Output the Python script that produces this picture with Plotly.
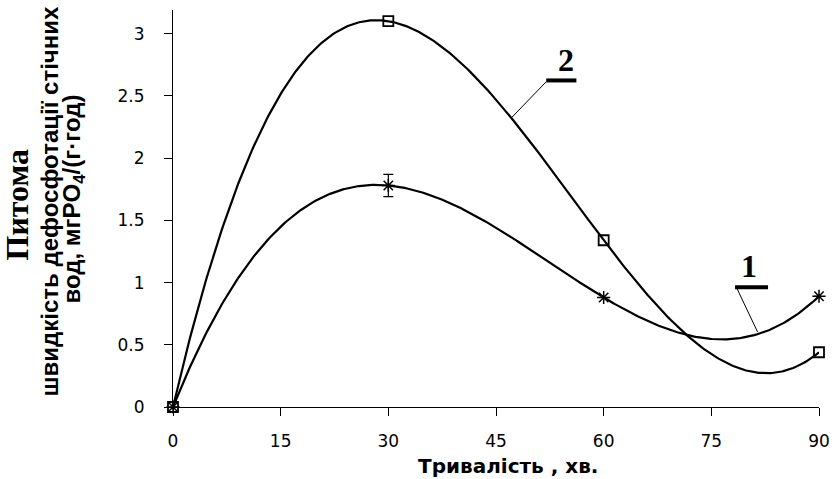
import numpy as np
import plotly.graph_objects as go

# ---- data ----
time_min = [0, 30, 60, 90]
series1 = [0.0, 1.78, 0.88, 0.89]
series1_err = [0.0, 0.09, 0.0, 0.0]
series2 = [0.0, 3.10, 1.34, 0.44]
x_ticks = [0, 15, 30, 45, 60, 75, 90]
y_ticks = [0, 0.5, 1, 1.5, 2, 2.5, 3]
y_tick_text = ["0", "0.5", "1", "1.5", "2", "2.5", "3"]

# cubic polynomial trendlines (as in the original chart)
xs = np.linspace(0, 90, 400)
fit1 = np.polyval(np.polyfit(time_min, series1, 3), xs)
fit2 = np.polyval(np.polyfit(time_min, series2, 3), xs)

fig = go.Figure()
fig.add_trace(go.Scatter(x=xs, y=fit2, mode="lines",
                         line=dict(color="black", width=2.2), hoverinfo="skip"))
fig.add_trace(go.Scatter(x=xs, y=fit1, mode="lines",
                         line=dict(color="black", width=2.2), hoverinfo="skip"))
fig.add_trace(go.Scatter(x=time_min, y=series2, mode="markers", cliponaxis=False,
                         marker=dict(symbol="square-open", size=10, color="black",
                                     line=dict(width=1.8, color="black"))))
fig.add_trace(go.Scatter(x=time_min, y=series1, mode="markers", cliponaxis=False,
                         error_y=dict(type="data", array=series1_err, visible=True,
                                      color="black", thickness=1.2, width=5),
                         marker=dict(symbol="asterisk-open", size=11, color="black",
                                     line=dict(width=1.5, color="black"))))

# curve labels with underline and leader lines
label_font = dict(family="Liberation Serif", size=32, color="black", weight="bold")
fig.add_annotation(x=54.7, y=2.79, text="2", showarrow=False,
                   font=label_font, xanchor="center", yanchor="middle")
fig.add_annotation(x=80.3, y=1.13, text="1", showarrow=False,
                   font=label_font, xanchor="center", yanchor="middle")
fig.add_shape(type="line", x0=52.0, x1=56.2, y0=2.624, y1=2.624,
              line=dict(color="black", width=4))
fig.add_shape(type="line", x0=52.04, x1=47.2, y0=2.616, y1=2.327,
              line=dict(color="black", width=1))
fig.add_shape(type="line", x0=78.3, x1=82.9, y0=0.963, y1=0.963,
              line=dict(color="black", width=4))
fig.add_shape(type="line", x0=78.55, x1=81.45, y0=0.955, y1=0.602,
              line=dict(color="black", width=1))

# y-axis title (three lines)
fig.add_annotation(xref="paper", yref="paper", x=0, y=0.5, xshift=-157, yshift=4,
                   text="Питома", textangle=-90, showarrow=False,
                   font=dict(family="Liberation Serif", size=32, color="black",
                             weight="bold"),
                   xanchor="center", yanchor="middle")
fig.add_annotation(xref="paper", yref="paper", x=0, y=0.5, xshift=-124, yshift=7,
                   text="швидкість дефосфотації стічних", textangle=-90,
                   showarrow=False,
                   font=dict(family="Liberation Sans", size=24, color="black",
                             weight="bold"),
                   xanchor="center", yanchor="middle")
fig.add_annotation(xref="paper", yref="paper", x=0, y=0.5, xshift=-100, yshift=9,
                   text="вод, мгPO<sub>4</sub>/(г·год)", textangle=-90,
                   showarrow=False,
                   font=dict(family="Liberation Sans", size=24, color="black",
                             weight="bold"),
                   xanchor="center", yanchor="middle")

# x-axis title
fig.add_annotation(xref="paper", yref="paper", x=0.5, y=0, xshift=12, yshift=-59,
                   text="Тривалість , хв.", showarrow=False,
                   font=dict(family="DejaVu Sans", size=20, color="black",
                             weight="bold"),
                   xanchor="center", yanchor="middle")

fig.update_layout(
    width=840, height=479,
    margin=dict(l=173, r=15, t=10, b=72),
    paper_bgcolor="white", plot_bgcolor="white",
    showlegend=False,
    xaxis=dict(range=[0, 90], tickvals=x_ticks, showgrid=False, zeroline=False,
               showline=True, linecolor="black", linewidth=1.2,
               ticks="outside", ticklen=8, tickcolor="black", tickwidth=1.2,
               ticklabelstandoff=10,
               tickfont=dict(family="DejaVu Sans", size=17, color="black")),
    yaxis=dict(range=[0, 3.19], tickvals=y_ticks, ticktext=y_tick_text,
               showgrid=False, zeroline=False,
               showline=True, linecolor="black", linewidth=1.2,
               ticks="outside", ticklen=8, tickcolor="black", tickwidth=1.2,
               ticklabelstandoff=16,
               tickfont=dict(family="DejaVu Sans", size=17, color="black")),
)

fig.write_html("out.html")
